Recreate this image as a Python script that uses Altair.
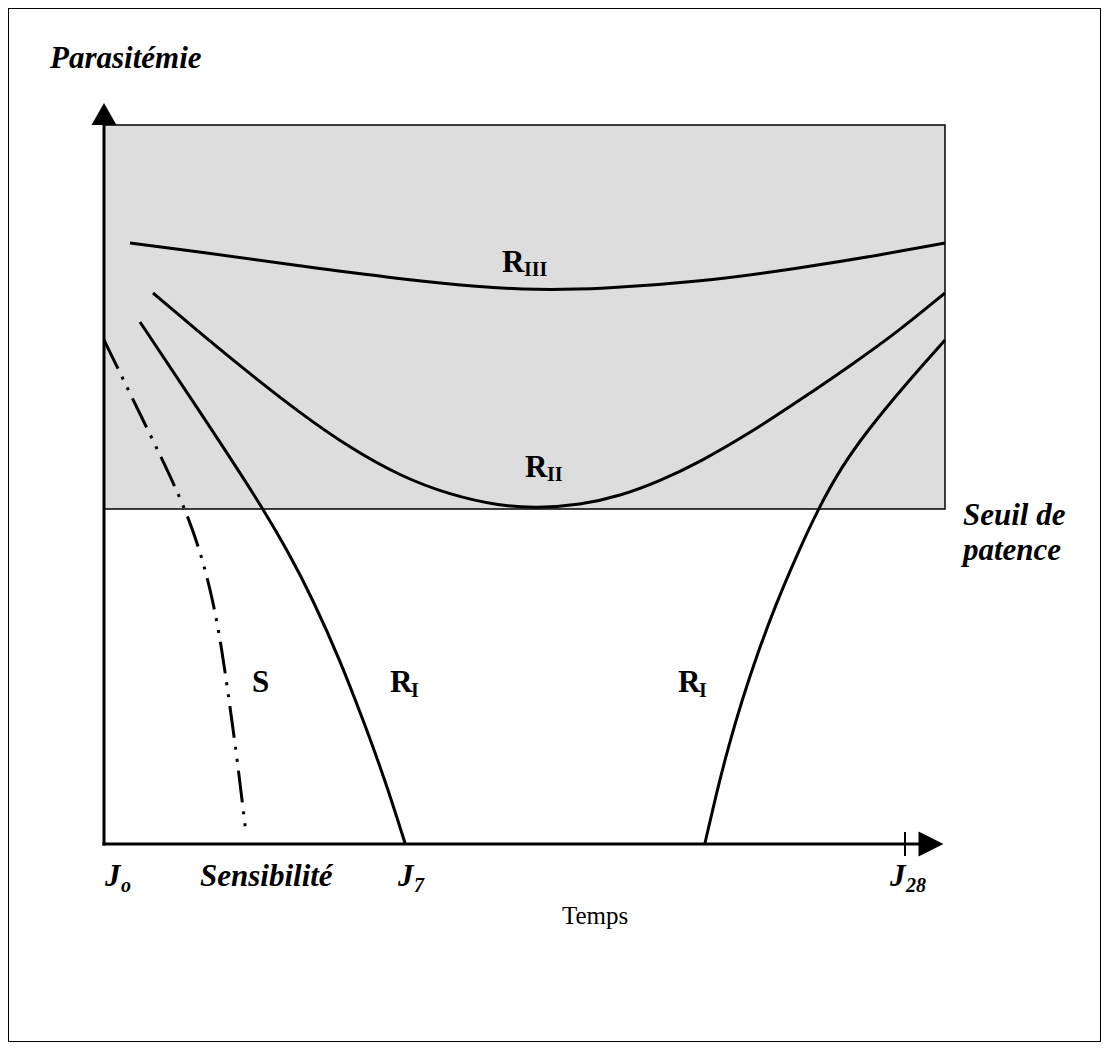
import altair as alt
import pandas as pd

# Schematic units (no numeric scale in the original): origin = J0 on the time axis
# x: time, y: parasitaemia
r3_x = [26, 96, 196, 296, 376, 431, 496, 596, 696, 776, 841]
r3_y = [601, 592, 578, 565, 557, 554, 555, 562, 576, 589, 601]

r2_x = [49, 96, 146, 196, 246, 296, 346, 396, 433, 476, 516, 556, 596, 646, 696, 746, 796, 841]
r2_y = [551, 511, 470, 431, 396, 368, 349, 338, 336, 339, 348, 363, 382, 411, 444, 478, 514, 551]

r1a_x = [36, 96, 154, 186, 209, 236, 261, 281, 301]
r1a_y = [522, 432, 344, 289, 244, 184, 119, 64, 1]

r1b_x = [601, 612, 624, 638, 654, 672, 692, 714, 738, 764, 791, 816, 841]
r1b_y = [1, 49, 96, 144, 192, 240, 287, 335, 378, 414, 447, 476, 504]

s_x = [0, 39, 78, 96, 109, 118, 125, 132, 138, 142]
s_y = [504, 424, 344, 294, 244, 194, 144, 94, 44, 11]

threshold = 335      # seuil de patence
top_level = 719      # top of shaded zone
x_end = 841          # right edge of shaded zone
axis_y_end = 719
axis_x_end = 815
j28_x = 801

# labels
bi_text = ["Parasitémie", "Seuil de", "patence", "J", "Sensibilité", "J", "J"]
bi_x = [-54, 859, 859, 1, 96, 294, 786]
bi_y = [776, 319, 284, -42, -42, -42, -42]
sub_text = ["o", "7", "28"]
sub_x = [17, 310, 802]
sub_y = [-48, -48, -48]

b_text = ["R", "R", "R", "R", "S"]
b_x = [398, 421, 286, 574, 148]
b_y = [572, 367, 152, 152, 152]
bsub_text = ["III", "II", "I", "I"]
bsub_x = [420, 443, 307, 595]
bsub_y = [568, 363, 147, 147]

temps_text = ["Temps"]
temps_x = [458]
temps_y = [-80]

FONT = "Liberation Serif"
W, H = 1093, 1034
xs = alt.Scale(domain=[-96, 997], nice=False, zero=False)
ys = alt.Scale(domain=[-198, 836], nice=False, zero=False)

def curve_df(xv, yv, name):
    return pd.DataFrame({"x": xv, "y": yv, "i": range(len(xv)), "c": name})

curves = pd.concat([
    curve_df(r3_x, r3_y, "R3"),
    curve_df(r2_x, r2_y, "R2"),
    curve_df(r1a_x, r1a_y, "R1a"),
    curve_df(r1b_x, r1b_y, "R1b"),
])
s_df = curve_df(s_x, s_y, "S")

rect_df = pd.DataFrame({"x": [0], "x2": [x_end], "y": [threshold], "y2": [top_level]})
axes_df = pd.DataFrame({"x": [0, 0], "x2": [0, axis_x_end], "y": [0, 0], "y2": [axis_y_end, 0]})
tick_df = pd.DataFrame({"x": [j28_x], "y": [-12], "y2": [12]})
arrow_up = pd.DataFrame({"x": [0], "y": [730]})
arrow_right = pd.DataFrame({"x": [axis_x_end + 12], "y": [0]})

X = lambda f="x": alt.X(f"{f}:Q", scale=xs, axis=None)
Y = lambda f="y": alt.Y(f"{f}:Q", scale=ys, axis=None)

rect = alt.Chart(rect_df).mark_rect(fill="#dddddd", stroke="black", strokeWidth=1.5).encode(
    x=X(), x2="x2", y=Y(), y2="y2")

axes = alt.Chart(axes_df).mark_rule(color="black", strokeWidth=3, strokeCap="square").encode(
    x=X(), x2="x2", y=Y(), y2="y2")

tick = alt.Chart(tick_df).mark_rule(color="black", strokeWidth=2).encode(x=X(), y=Y(), y2="y2")

up = alt.Chart(arrow_up).mark_point(shape="M0,-0.88L1,0.88L-1,0.88Z", size=625, filled=True,
                                    color="black", opacity=1).encode(x=X(), y=Y())
right = alt.Chart(arrow_right).mark_point(shape="M-1,-1L1,0L-1,1Z", size=625, filled=True,
                                          color="black", opacity=1).encode(x=X(), y=Y())

lines = alt.Chart(curves).mark_line(color="black", strokeWidth=3, interpolate="basis").encode(
    x=X(), y=Y(), detail="c:N", order="i:Q")

s_line = alt.Chart(s_df).mark_line(color="black", strokeWidth=3, interpolate="basis",
                                   strokeDash=[32, 9, 3, 9, 3, 9]).encode(x=X(), y=Y(), order="i:Q")

def text_layer(tx, xv, yv, size, style, weight):
    df = pd.DataFrame({"t": tx, "x": xv, "y": yv})
    return alt.Chart(df).mark_text(font=FONT, fontSize=size, fontStyle=style, fontWeight=weight,
                                   align="left", baseline="alphabetic", color="black").encode(
        x=X(), y=Y(), text="t:N")

t1 = text_layer(bi_text, bi_x, bi_y, 31, "italic", "bold")
t2 = text_layer(sub_text, sub_x, sub_y, 20, "italic", "bold")
t3 = text_layer(b_text, b_x, b_y, 31, "normal", "bold")
t4 = text_layer(bsub_text, bsub_x, bsub_y, 20, "normal", "bold")
t5 = text_layer(temps_text, temps_x, temps_y, 25, "normal", "normal")

chart = alt.layer(rect, lines, s_line, axes, tick, up, right, t1, t2, t3, t4, t5).properties(
    width=W, height=H, padding=0, autosize="none", background="white"
).configure_view(stroke="black", strokeWidth=2)

chart.save("out.html", embed_options={"renderer": "svg", "actions": False})
